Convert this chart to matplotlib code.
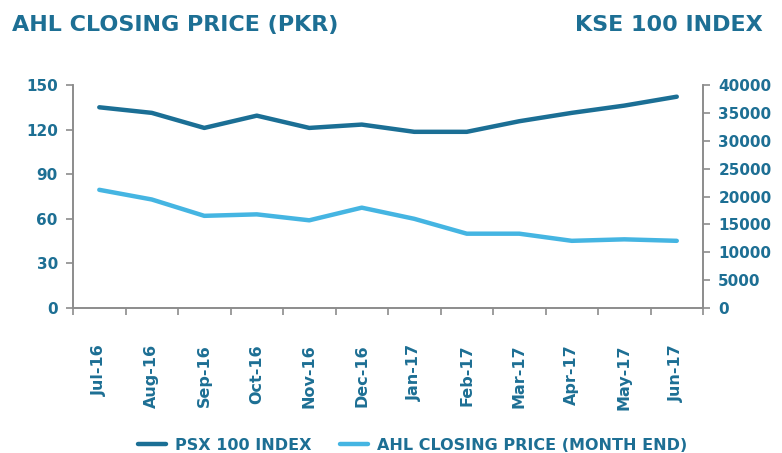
import matplotlib.pyplot as plt
import numpy as np

months = ['Jul-16', 'Aug-16', 'Sep-16', 'Oct-16', 'Nov-16', 'Dec-16',
          'Jan-17', 'Feb-17', 'Mar-17', 'Apr-17', 'May-17', 'Jun-17']
psx_index = [36000, 35000, 32300, 34500, 32300, 32900,
             31600, 31600, 33500, 35000, 36300, 37900]
ahl_price = [79.5, 73, 62, 63, 59, 67.5, 60, 50, 50, 45.2, 46.2, 45.2]

dark = '#1b6f95'
light = '#45b5e2'
txt = '#1d6f94'
grey = '#8c8c8c'

plt.rcParams['font.family'] = ['DejaVu Sans']

fig = plt.figure(figsize=(7.82, 4.53), dpi=100)
ax = fig.add_axes([0.0934, 0.32, 0.8056, 0.4924])
ax2 = ax.twinx()

x = np.arange(len(months))
l2, = ax2.plot(x, psx_index, color=dark, lw=3.2, solid_capstyle='round', zorder=3)
l1, = ax.plot(x, ahl_price, color=light, lw=3.2, solid_capstyle='round', zorder=3)

ax.set_xlim(-0.5, len(months) - 0.5)
ax.set_ylim(0, 150)
ax.set_yticks([0, 30, 60, 90, 120, 150])
ax2.set_ylim(0, 40000)
ax2.set_yticks(np.arange(0, 40001, 5000))

# category boundary ticks, labels centered between them
ax.set_xticks(np.arange(-0.5, len(months), 1))
ax.set_xticklabels([])
ax.set_xticks(x, minor=True)
ax.set_xticklabels(months, minor=True, rotation=90, color=txt,
                   fontsize=11.5, fontweight='semibold')
ax.tick_params(axis='x', which='minor', length=0, pad=26)
ax.tick_params(axis='x', which='major', length=5, color=grey, width=1.2)

ax.tick_params(axis='y', length=5, color=grey, width=1.2, labelcolor=txt,
               labelsize=11, pad=6)
ax2.tick_params(axis='y', length=5, color=grey, width=1.2, labelcolor=txt,
                labelsize=11, pad=6)
for t in ax.get_yticklabels() + ax2.get_yticklabels():
    t.set_fontweight('semibold')

for a in (ax, ax2):
    a.spines['top'].set_visible(False)
    for s in ('left', 'right', 'bottom'):
        a.spines[s].set_color(grey)
        a.spines[s].set_linewidth(1.2)

fig.text(0.015, 0.945, 'AHL CLOSING PRICE (PKR)', color=txt, fontsize=16,
         fontweight='semibold', ha='left', va='center')
fig.text(0.976, 0.945, 'KSE 100 INDEX', color=txt, fontsize=16,
         fontweight='semibold', ha='right', va='center')

fig.legend([l2, l1], ['PSX 100 INDEX', 'AHL CLOSING PRICE (MONTH END)'],
           loc='center', bbox_to_anchor=(0.528, 0.017), ncol=2, frameon=False,
           labelcolor=txt, handlelength=1.7, handletextpad=0.6,
           columnspacing=1.8, prop={'weight': 'semibold', 'size': 11.5})

fig.savefig('out.png', dpi=100)
